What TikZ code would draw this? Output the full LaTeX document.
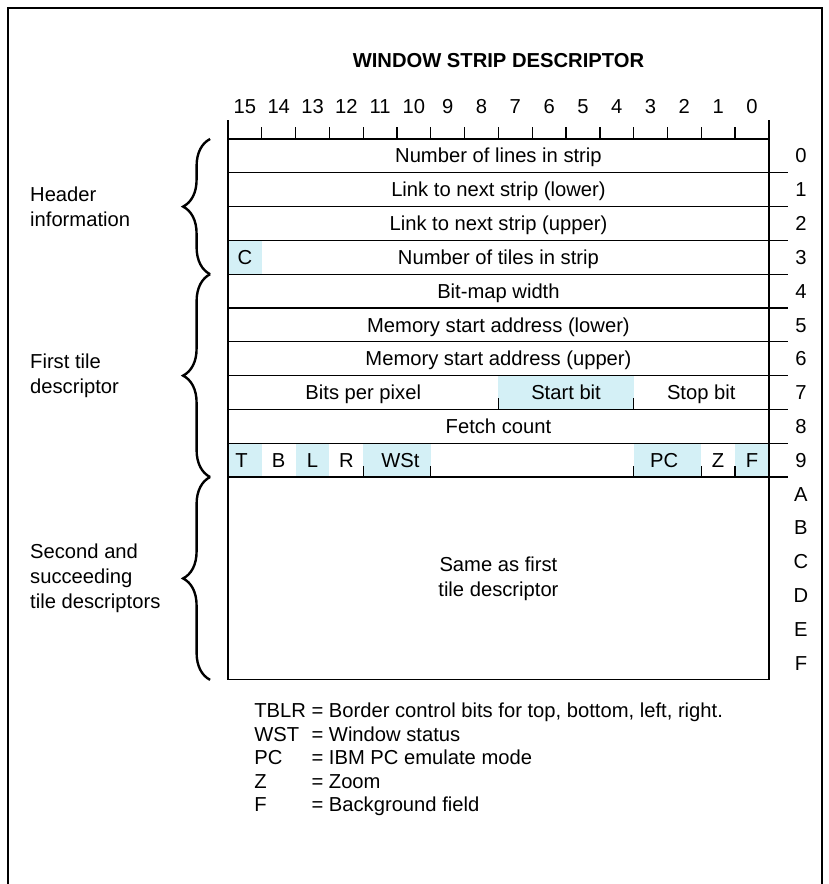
\documentclass[tikz,border=0pt]{standalone}
\usepackage{fontspec}
\setmainfont{Liberation Sans}
\usetikzlibrary{decorations.pathreplacing}
\definecolor{tileshade}{RGB}{212,240,246}
\newcommand{\fieldfont}{\fontsize{17}{21}\selectfont}
\tikzset{
  grid line/.style={line width=1.1pt},
  field/.style={inner sep=0pt, font=\fieldfont, anchor=base, yshift=-0.21cm},
  textblock/.style={inner sep=0pt, font=\fieldfont, align=left},
  sidebrace/.style={decorate, decoration={brace, amplitude=0.8cm}, line width=2pt},
}
\begin{document}
\begin{tikzpicture}
  \useasboundingbox (-6.746,-22.04) rectangle (17.75,4.112);
  % outer frame, open at the bottom
  \draw[line width=1.3pt] (-6.51,-22.04) -- (-6.51,3.876) -- (17.57,3.876) -- (17.57,-22.04);
  % shaded fields
  \fill[tileshade] (0,-4) rectangle (1,-3);
  \fill[tileshade] (8,-8) rectangle (12,-7);
  \foreach \a/\b in {0/1,2/3,4/6,12/14,15/16}
    \fill[tileshade] (\a,-10) rectangle (\b,-9);
  % title and bit ruler
  \node[field, font=\fieldfont\bfseries] (title) at (8,2.32) {WINDOW STRIP DESCRIPTOR};
  \foreach \i in {0,...,15}
    \node[field] (bit\i) at ({15.5-\i},0.95) {\i};
  \foreach \k in {1,...,15}
    \draw[grid line] (\k,0) -- (\k,0.35);
  % table outline and row lines
  \draw[grid line] (0,0.55) -- (0,-16) -- (16,-16) -- (16,0.55);
  \draw[grid line] (0,0) -- (16,0);
  \foreach \r in {1,...,10}
    \draw[grid line] (0,-\r) -- (16.57,-\r);
  % one-field words
  \foreach \r/\t in {0/Number of lines in strip, 1/Link to next strip (lower),
      2/Link to next strip (upper), 3/Number of tiles in strip, 4/Bit-map width,
      5/Memory start address (lower), 6/Memory start address (upper), 8/Fetch count}
    \node[field] (word\r) at (8,-\r-0.5) {\t};
  \node[field] (cbit) at (0.5,-3.5) {C};
  % word 7
  \node[field] (bpp) at (4,-7.5) {Bits per pixel};
  \node[field] (startbit) at (10,-7.5) {Start bit};
  \node[field] (stopbit) at (14,-7.5) {Stop bit};
  \foreach \k in {8,12}
    \draw[grid line] (\k,-8) -- (\k,-7.67);
  % word 9
  \foreach \x/\t/\n in {0.4/T/tb, 1.5/B/bb, 2.5/L/lb, 3.5/R/rb, 5.1/WSt/wst,
      12.9/PC/pc, 14.5/Z/zb, 15.5/F/fb}
    \node[field] (\n) at (\x,-9.5) {\t};
  \foreach \k in {4,6,12,14,15}
    \draw[grid line] (\k,-10) -- (\k,-9.67);
  \node[textblock, align=center] (same) at (8,-13) {Same as first\\tile descriptor};
  % word numbers
  \foreach \r/\t in {0/0,1/1,2/2,3/3,4/4,5/5,6/6,7/7,8/8,9/9,10/A,11/B,12/C,13/D,14/E,15/F}
    \node[field] (row\r) at (16.95,-\r-0.5) {\t};
  % braces and group names
  \draw[sidebrace] (-0.53,-4) -- (-0.53,0);
  \draw[sidebrace] (-0.53,-10) -- (-0.53,-4);
  \draw[sidebrace] (-0.53,-16) -- (-0.53,-10);
  \node[textblock, anchor=west] (header) at (-5.86,-2) {Header\\information};
  \node[textblock, anchor=west] (firsttile) at (-5.86,-7) {First tile\\descriptor};
  \node[textblock, anchor=west] (nexttiles) at (-5.86,-13) {Second and\\succeeding\\tile descriptors};
  % legend
  \node[textblock, anchor=north west, font=\fontsize{17}{19.8}\selectfont] (legend) at (0.77,-16.63)
    {\begin{tabular}{@{}l@{ = }l@{}}
      TBLR & Border control bits for top, bottom, left, right.\\
      WST & Window status\\
      PC & IBM PC emulate mode\\
      Z & Zoom\\
      F & Background field
    \end{tabular}};
\end{tikzpicture}
\end{document}
